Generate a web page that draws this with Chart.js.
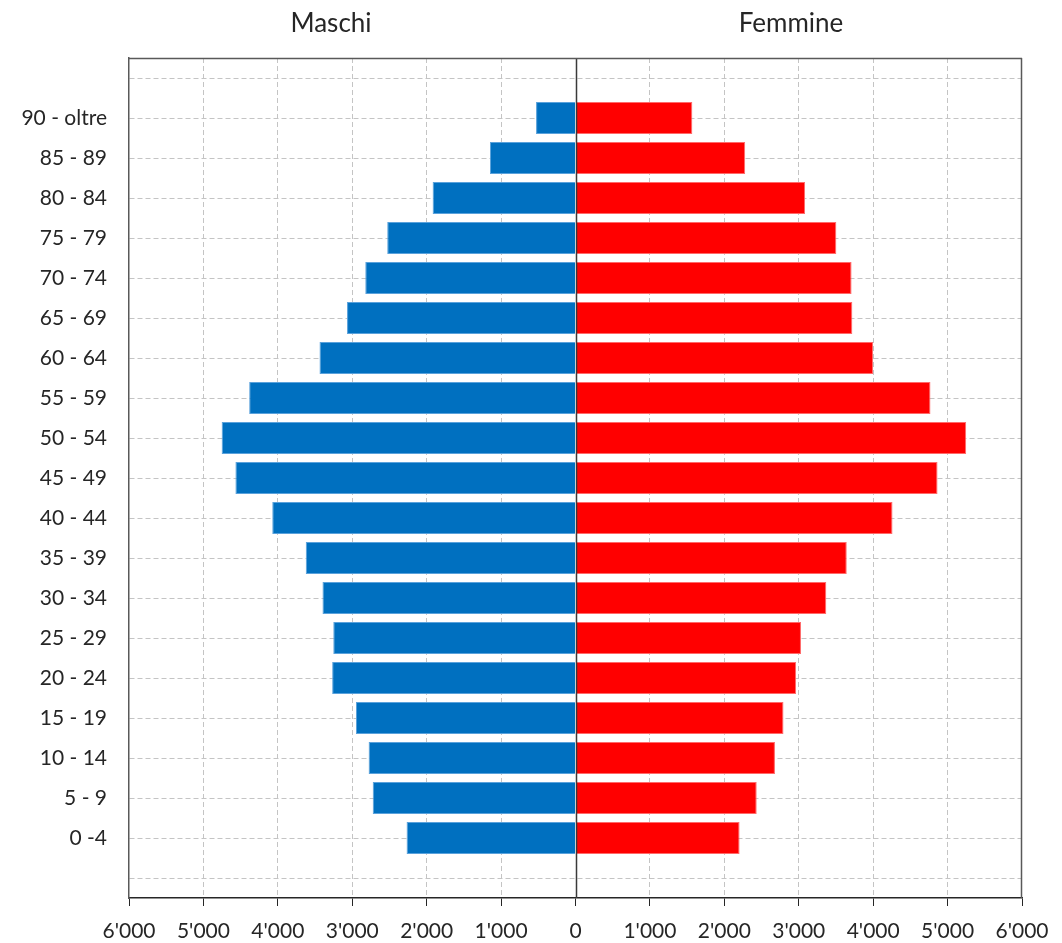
<!DOCTYPE html>
<html>
<head>
<meta charset="utf-8">
<script src="https://cdn.jsdelivr.net/npm/chart.js@4/dist/chart.umd.min.js"></script>
<style>
  html, body { margin: 0; padding: 0; background: #fff; }
  #wrap { position: relative; width: 1062px; height: 943px; }
  canvas { position: absolute; left: 0; top: 0; }
  .side-title { position: absolute; top: 4px; transform: translateX(-50%); font-family: Lato, "Noto Sans", sans-serif; font-size: 26px; color: #262626; white-space: nowrap; line-height: 36px; }
</style>
</head>
<body>
<div id="wrap">
  <canvas id="c" width="1062" height="943"></canvas>
  <div class="side-title" style="left:331px">Maschi</div>
  <div class="side-title" style="left:791px">Femmine</div>
</div>
<script>
// Age groups, from youngest to oldest
const ageGroups = ['0 -4','5 - 9','10 - 14','15 - 19','20 - 24','25 - 29','30 - 34','35 - 39','40 - 44','45 - 49','50 - 54','55 - 59','60 - 64','65 - 69','70 - 74','75 - 79','80 - 84','85 - 89','90 - oltre'];
// Males (Maschi) per age group
const maschi = [2270, 2725, 2780, 2950, 3270, 3255, 3400, 3625, 4075, 4570, 4755, 4385, 3440, 3070, 2825, 2530, 1920, 1150, 530];
// Females (Femmine) per age group
const femmine = [2205, 2435, 2680, 2795, 2965, 3030, 3370, 3645, 4260, 4865, 5250, 4770, 4000, 3720, 3710, 3505, 3085, 2280, 1570];
// Value axis ticks
const xTicks = [-6000, -5000, -4000, -3000, -2000, -1000, 0, 1000, 2000, 3000, 4000, 5000, 6000];

// Display order: oldest at top, with an empty slot above and below
const labels = [''].concat(ageGroups.slice().reverse(), ['']);
const maleData = [null].concat(maschi.slice().reverse().map(v => -v), [null]);
const femaleData = [null].concat(femmine.slice().reverse(), [null]);

const fmt = v => String(Math.abs(v)).replace(/\B(?=(\d{3})+(?!\d))/g, "'");

const frame = {
  id: 'frame',
  afterDatasetsDraw(chart) {
    const {ctx, chartArea: a, scales: {x}} = chart;
    ctx.save();
    ctx.lineWidth = 1.5;
    ctx.strokeStyle = '#3a3a3a';
    const z = Math.round(x.getPixelForValue(0)) + 0.5;
    ctx.beginPath(); ctx.moveTo(z, a.top); ctx.lineTo(z, a.bottom); ctx.stroke();
    ctx.lineWidth = 1.5;
    ctx.strokeStyle = '#595959';
    ctx.beginPath();
    ctx.moveTo(a.left, a.top + 0.5); ctx.lineTo(a.right, a.top + 0.5);
    ctx.moveTo(a.right - 0.5, a.top); ctx.lineTo(a.right - 0.5, a.bottom);
    ctx.stroke();
    ctx.restore();
  }
};

new Chart(document.getElementById('c'), {
  type: 'bar',
  data: {
    labels: labels,
    datasets: [
      { label: 'Maschi', data: maleData, backgroundColor: '#0070C0', borderColor: '#5aa2dc', borderWidth: 1, barPercentage: 0.8, categoryPercentage: 1 },
      { label: 'Femmine', data: femaleData, backgroundColor: '#FF0000', borderColor: '#ff6a6a', borderWidth: 1, barPercentage: 0.8, categoryPercentage: 1 }
    ]
  },
  options: {
    indexAxis: 'y',
    responsive: false,
    animation: false,
    layout: { padding: { top: 58, right: 40, bottom: 0, left: 0 } },
    plugins: { legend: { display: false }, tooltip: { enabled: false } },
    scales: {
      x: {
        type: 'linear',
        stacked: true,
        min: -6000,
        max: 6000,
        afterBuildTicks: s => { s.ticks = xTicks.map(v => ({ value: v })); },
        afterFit: s => { s.height = 45; },
        ticks: { callback: v => fmt(v), color: '#262626', font: { family: 'Lato', size: 21 }, padding: 13, maxRotation: 0, autoSkip: false },
        grid: {
          color: c => (c.tick && (c.tick.value === 0 || Math.abs(c.tick.value) === 6000)) ? 'rgba(0,0,0,0)' : '#c4c4c4',
          lineWidth: 1,
          drawTicks: true,
          tickLength: 8,
          tickColor: '#262626',
          tickBorderDash: []
        },
        border: { display: true, color: '#262626', width: 1.5, dash: [5, 3] }
      },
      y: {
        type: 'category',
        stacked: true,
        afterFit: s => { s.width = 129; },
        ticks: { color: '#262626', font: { family: 'Lato', size: 21 }, padding: 22, autoSkip: false },
        grid: { offset: false, color: '#c4c4c4', lineWidth: 1, drawTicks: false, tickLength: 0 },
        border: { display: true, color: '#595959', width: 1.5, dash: [5, 3] }
      }
    }
  },
  plugins: [frame]
});
</script>
</body>
</html>
